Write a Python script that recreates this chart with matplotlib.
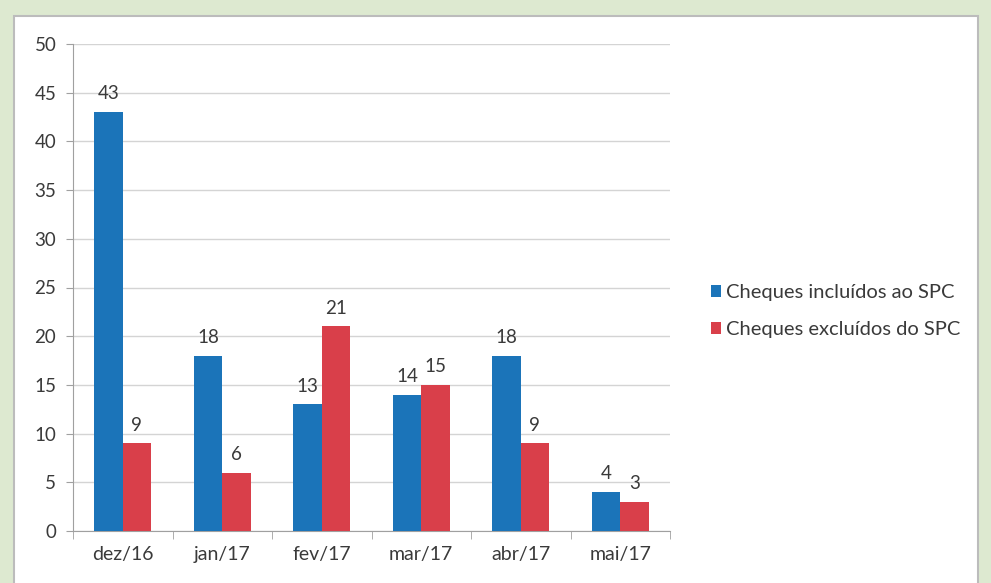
import matplotlib
matplotlib.use("Agg")
import matplotlib.pyplot as plt
import numpy as np
from matplotlib.patches import Rectangle

categories = ["dez/16", "jan/17", "fev/17", "mar/17", "abr/17", "mai/17"]
incluidos = [43, 18, 13, 14, 18, 4]
excluidos = [9, 6, 21, 15, 9, 3]
series_names = ["Cheques incluídos ao SPC", "Cheques excluídos do SPC"]
yticks = [0, 5, 10, 15, 20, 25, 30, 35, 40, 45, 50]

blue = "#1b74b9"
red = "#d93f4a"
txt = "#3a3a3a"

plt.rcParams['font.family'] = ['Lato', 'DejaVu Sans']

fig = plt.figure(figsize=(9.91, 5.83), dpi=100)
fig.patch.set_facecolor("#dde9d0")

bg = fig.add_axes([0, 0, 1, 1], zorder=-1)
bg.set_xlim(0, 991)
bg.set_ylim(583, 0)
bg.axis("off")
bg.add_patch(Rectangle((14, 16), 964, 600, facecolor="white", edgecolor="#bcbcbc", linewidth=1.5))

ax = fig.add_axes([73/991, 1-531/583, (670-73)/991, (531-44)/583], zorder=1)
ax.set_facecolor("none")
x = np.arange(len(categories))
w = 0.285
b1 = ax.bar(x - w/2, incluidos, w, color=blue, label=series_names[0], zorder=3)
b2 = ax.bar(x + w/2, excluidos, w, color=red, label=series_names[1], zorder=3)
for bars, vals in ((b1, incluidos), (b2, excluidos)):
    for r, v in zip(bars, vals):
        ax.text(r.get_x() + r.get_width()/2, v + 1.0, str(v), ha="center", va="bottom",
                fontsize=13.5, color=txt, zorder=4)

ax.set_xlim(-0.5, len(categories) - 0.5)
ax.set_ylim(0, 50)
ax.set_yticks(yticks)
ax.set_yticklabels([str(t) for t in yticks], fontsize=13.5, color=txt)
ax.yaxis.grid(True, color="#d4d4d4", linewidth=1, zorder=0)
ax.set_axisbelow(True)
ax.set_xticks(x)
ax.set_xticklabels(categories, fontsize=14, color=txt)
ax.set_xticks(np.arange(-0.5, len(categories)), minor=True)
ax.tick_params(axis="x", which="major", length=0, pad=11)
ax.tick_params(axis="x", which="minor", length=6, color="#a0a0a0", direction="out")
ax.tick_params(axis="y", length=5, color="#a0a0a0", pad=7)
for s in ["top", "right"]:
    ax.spines[s].set_visible(False)
for s in ["left", "bottom"]:
    ax.spines[s].set_color("#a0a0a0")

leg = fig.legend(handles=[b1, b2], labels=series_names, loc="upper left",
                 bbox_to_anchor=(693/991, 1-266/583), frameon=False, fontsize=14.5,
                 handlelength=0.5, handleheight=0.5, handletextpad=0.25, labelspacing=1.0,
                 labelcolor=txt)

fig.savefig("out.png", dpi=100, facecolor=fig.get_facecolor())
